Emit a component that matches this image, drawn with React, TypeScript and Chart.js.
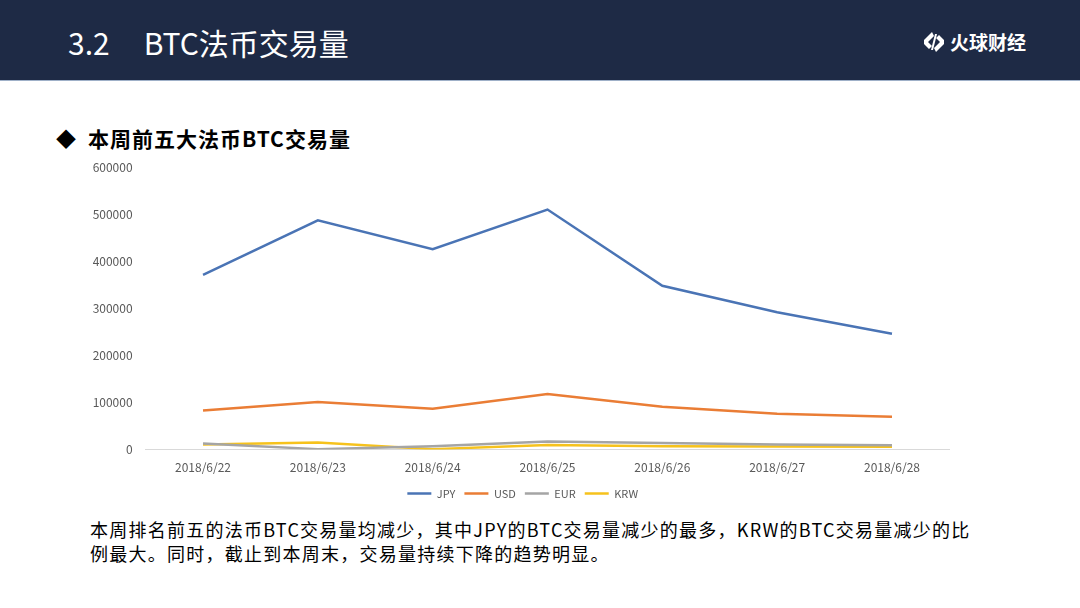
import React, { useEffect, useRef } from "react";
import { Chart, registerables } from "chart.js";

Chart.register(...registerables);

const categories = ["2018/6/22", "2018/6/23", "2018/6/24", "2018/6/25", "2018/6/26", "2018/6/27", "2018/6/28"];
const seriesNames = ["JPY", "USD", "EUR", "KRW"];
const jpy = [371000, 487000, 426000, 510000, 348000, 292000, 246000];
const usd = [83000, 101000, 87000, 118000, 91000, 76000, 70000];
const eur = [13000, 1000, 7000, 17000, 14000, 11000, 9500];
const krw = [11000, 15000, 1000, 10000, 7000, 6500, 6000];
const yTicks = [0, 100000, 200000, 300000, 400000, 500000, 600000];
const colors = ["#4A74B5", "#EA7D35", "#A5A5A5", "#F6C21C"];

const FONT = '"Noto Sans CJK SC", "Noto Sans", sans-serif';

const legendShift = {
  id: "legendShift",
  afterLayout(chart: any) {
    if (chart.legend) {
      chart.legend.left += 18;
      chart.legend.right += 18;
    }
  },
};

function LineChart() {
  const ref = useRef<HTMLCanvasElement | null>(null);
  useEffect(() => {
    if (!ref.current) return;
    const values = [jpy, usd, eur, krw];
    const chart = new Chart(ref.current, {
      type: "line",
      data: {
        labels: categories,
        datasets: seriesNames.map((n, i) => ({
          label: n,
          data: values[i],
          borderColor: colors[i],
          backgroundColor: colors[i],
          borderWidth: 2.5,
          pointRadius: 0,
          tension: 0,
        })),
      },
      plugins: [legendShift],
      options: {
        responsive: false,
        animation: false,
        layout: { padding: { top: 8, right: 10.6, left: 0, bottom: 0 } },
        plugins: {
          tooltip: { enabled: false },
          legend: {
            position: "bottom",
            labels: {
              usePointStyle: true,
              pointStyle: "line",
              pointStyleWidth: 24,
              boxHeight: 8,
              padding: 9,
              color: "#595959",
              font: { family: FONT, size: 11 },
            },
          },
        },
        scales: {
          x: {
            offset: true,
            grid: { display: false, drawTicks: false },
            border: { display: true, color: "#D9D9D9", width: 1 },
            afterFit: (s: any) => { s.height = 29.4; },
            ticks: { color: "#595959", font: { family: FONT, size: 12 }, padding: 11, maxRotation: 0 },
          },
          y: {
            min: yTicks[0],
            max: yTicks[yTicks.length - 1],
            grid: { display: false, drawTicks: false },
            border: { display: false },
            afterFit: (s: any) => { s.width = 85.6; },
            afterBuildTicks: (s: any) => { s.ticks = yTicks.map((v) => ({ value: v })); },
            ticks: {
              color: "#595959",
              font: { family: FONT, size: 12 },
              padding: 13,
              callback: (v: any) => String(v),
            },
          },
        },
      },
    });
    return () => chart.destroy();
  }, []);
  return <canvas ref={ref} width={900} height={362} style={{ position: "absolute", left: 60, top: 147, width: 900, height: 362 }} />;
}

function Logo() {
  return (
    <div style={{ position: "absolute", left: 921, top: 28, display: "flex", alignItems: "center" }}>
      <svg width="26" height="26" viewBox="0 0 26 26">
        <path d="M11 3 L3 11 L3 15 L8 20 L11 17 L7 13 L13 7 Z" fill="#fff" />
        <path d="M15 23 L23 15 L23 11 L18 6 L15 9 L19 13 L13 19 Z" fill="#fff" />
        <path d="M14 5 L16 5 L12 21 L10 21 Z" fill="#fff" />
      </svg>
      <span style={{ color: "#fff", fontFamily: FONT, fontWeight: 700, fontSize: 19, marginLeft: 3, letterSpacing: 0 }}>火球财经</span>
    </div>
  );
}

export default function App() {
  return (
    <div style={{ position: "fixed", left: 0, top: 0, width: 1080, height: 608, background: "#fff", overflow: "hidden", fontFamily: FONT }}>
      <div style={{ position: "absolute", left: 0, top: 0, width: 1080, height: 80, background: "#1E2A45", borderBottom: "1px solid #9fb0c8" }} />
      <div style={{ position: "absolute", left: 68, top: 22, color: "#fff", fontSize: 30, lineHeight: "40px", whiteSpace: "nowrap", fontFamily: FONT }}>
        <span>3.2</span>
        <span style={{ marginLeft: 34 }}>BTC法币交易量</span>
      </div>
      <Logo />
      <div style={{ position: "absolute", left: 56, top: 123, fontSize: 21, lineHeight: "30px", fontWeight: 700, color: "#000", whiteSpace: "nowrap" }}>
        <span style={{ fontSize: 20 }}>◆</span>
        <span style={{ marginLeft: 12, letterSpacing: 1 }}>本周前五大法币BTC交易量</span>
      </div>
      <LineChart />
      <div style={{ position: "absolute", left: 90, top: 517, fontSize: 18, lineHeight: "24px", color: "#000", letterSpacing: 1.25, whiteSpace: "nowrap" }}>
        <div>本周排名前五的法币BTC交易量均减少，其中JPY的BTC交易量减少的最多，KRW的BTC交易量减少的比</div>
        <div>例最大。同时，截止到本周末，交易量持续下降的趋势明显。</div>
      </div>
    </div>
  );
}
